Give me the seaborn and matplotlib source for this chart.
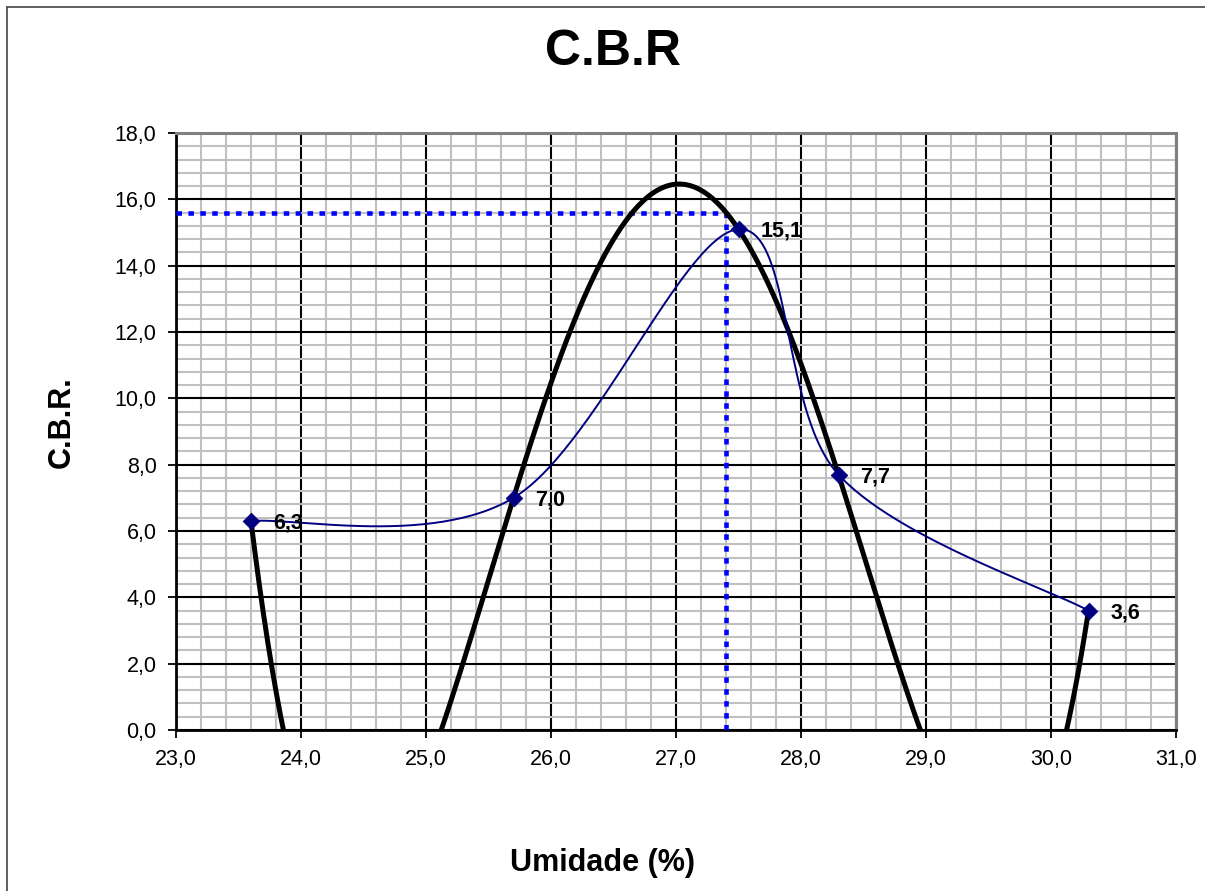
import numpy as np
import pandas as pd
import matplotlib
matplotlib.use("Agg")
import matplotlib.pyplot as plt
import seaborn as sns
from matplotlib.ticker import MultipleLocator, FuncFormatter
from matplotlib.lines import Line2D

# ensaio C.B.R.
umidade = [23.6, 25.7, 27.5, 28.3, 30.3]
cbr = [6.3, 7.0, 15.1, 7.7, 3.6]
rotulos = ["6,3", "7,0", "15,1", "7,7", "3,6"]
umidade_otima = 27.4
cbr_projeto = 15.6

sns.set_style("white")
plt.rcParams["font.family"] = ["Liberation Sans", "DejaVu Sans"]
plt.rcParams["text.color"] = "black"
plt.rcParams["xtick.color"] = "black"
plt.rcParams["ytick.color"] = "black"

df = pd.DataFrame({"umidade": umidade, "cbr": cbr})


def excel_smooth(x, y, n=60):
    """Curva suavizada tipo Excel (Bezier / Catmull-Rom)."""
    px = np.r_[x[0], x, x[-1]]
    py = np.r_[y[0], y, y[-1]]
    t = np.linspace(0, 1, n)[:, None]
    xs, ys = [], []
    for i in range(1, len(x)):
        p0 = np.array([px[i], py[i]])
        p3 = np.array([px[i + 1], py[i + 1]])
        c1 = p0 + (p3 - np.array([px[i - 1], py[i - 1]])) / 6
        c2 = p3 - (np.array([px[i + 2], py[i + 2]]) - p0) / 6
        b = ((1 - t) ** 3) * p0 + 3 * ((1 - t) ** 2) * t * c1 + 3 * (1 - t) * t ** 2 * c2 + t ** 3 * p3
        xs.append(b[:, 0]); ys.append(b[:, 1])
    return np.concatenate(xs), np.concatenate(ys)


# linha de tendencia polinomial (grau 4)
coef = np.polyfit(df.umidade, df.cbr, 4)
xt = np.linspace(min(umidade), max(umidade), 600)
trend = pd.DataFrame({"umidade": xt, "cbr": np.polyval(coef, xt)})

xs, ys = excel_smooth(np.array(umidade), np.array(cbr))
suave = pd.DataFrame({"umidade": xs, "cbr": ys})

fig = plt.figure(figsize=(12.05, 8.91), dpi=100)
ax = fig.add_axes([176 / 1205, 1 - 730 / 891, 1000 / 1205, 597 / 891])

ax.set_xlim(23, 31)
ax.set_ylim(0, 18)
ax.xaxis.set_major_locator(MultipleLocator(1))
ax.xaxis.set_minor_locator(MultipleLocator(0.2))
ax.yaxis.set_major_locator(MultipleLocator(2))
ax.yaxis.set_minor_locator(MultipleLocator(0.4))
fmt = FuncFormatter(lambda v, p: f"{v:.1f}".replace(".", ","))
ax.xaxis.set_major_formatter(fmt)
ax.yaxis.set_major_formatter(fmt)

ax.grid(which="minor", color="#c0c0c0", lw=1.5, zorder=0)
ax.grid(which="major", color="black", lw=1.5, zorder=0.5)
ax.set_axisbelow(True)
ax.tick_params(which="major", direction="out", length=6, width=1.3,
               labelsize=15.5, pad=8, bottom=True, left=True, colors="black")
ax.tick_params(which="minor", length=0)

for s in ["top", "right"]:
    ax.spines[s].set_color("#808080")
    ax.spines[s].set_linewidth(2.2)
for s in ["left", "bottom"]:
    ax.spines[s].set_color("black")
    ax.spines[s].set_linewidth(2)

# linhas de leitura (umidade otima / cbr)
ax.plot([23, umidade_otima], [cbr_projeto, cbr_projeto], color="#0000ff",
        lw=3.3, dashes=(1.2, 1.4), zorder=3)
ax.plot([umidade_otima, umidade_otima], [0, cbr_projeto], color="#0000ff",
        lw=3.3, dashes=(1.2, 1.4), zorder=3)

sns.lineplot(data=trend, x="umidade", y="cbr", color="black", lw=3.6,
             ax=ax, zorder=4)
sns.lineplot(data=suave, x="umidade", y="cbr", sort=False, estimator=None,
             color="#000080", lw=1.4, ax=ax, zorder=5)
sns.scatterplot(data=df, x="umidade", y="cbr", marker="D", s=70,
                color="#000080", edgecolor="#000080", ax=ax, zorder=6)

for xv, yv, lab in zip(umidade, cbr, rotulos):
    ax.annotate(lab, (xv, yv), xytext=(22, -2), textcoords="offset pixels",
                fontsize=15.5, fontweight="bold", va="center", ha="left",
                color="black", zorder=7)

ax.set_xlabel("")
ax.set_ylabel("")

fig.text(613 / 1205, 1 - 52 / 891, "C.B.R", fontsize=36, fontweight="bold",
         ha="center", va="center", color="black")
fig.text(602 / 1205, 1 - 863 / 891, "Umidade (%)", fontsize=22, fontweight="bold",
         ha="center", va="center", color="black")
fig.text(62 / 1205, 1 - 422 / 891, "C.B.R.", fontsize=22, fontweight="bold",
         ha="center", va="center", rotation=90, color="black")

# moldura do grafico
fig.add_artist(Line2D([7 / 1205, 7 / 1205], [0, 1 - 7 / 891], color="#444444", lw=1.2))
fig.add_artist(Line2D([7 / 1205, 1], [1 - 7 / 891, 1 - 7 / 891], color="#444444", lw=1.2))

fig.savefig("out.png", dpi=100)
